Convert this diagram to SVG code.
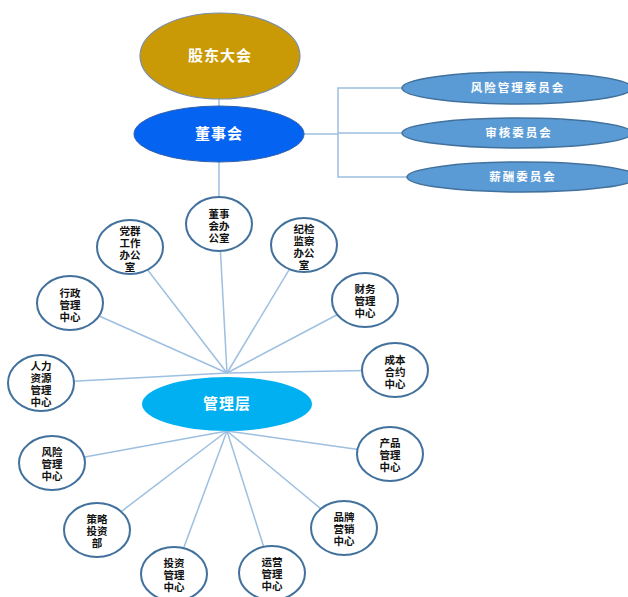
<svg xmlns="http://www.w3.org/2000/svg" width="628" height="597" viewBox="0 0 628 597">
<style>
.bg{fill:#ffffff}
.conn{stroke:#9dbfe0;stroke-width:1.5;fill:none}
.node{fill:#ffffff;stroke:#41719c;stroke-width:2}
.nt{font-family:"Noto Sans CJK SC","Noto Sans",sans-serif;font-size:10.5px;font-weight:bold;fill:#111;text-anchor:middle}
.big{font-family:"Noto Sans CJK SC","Noto Sans",sans-serif;font-size:15px;font-weight:bold;fill:#ffffff;text-anchor:middle;letter-spacing:1px}
.cm{fill:#5b9bd5;stroke:#41719c;stroke-width:1.5}
.ct{font-family:"Noto Sans CJK SC","Noto Sans",sans-serif;font-size:11.5px;font-weight:bold;fill:#ffffff;text-anchor:middle;letter-spacing:2px}
</style>
<rect class="bg" x="0" y="0" width="628" height="597"/>
<g id="connectors">
<line class="conn" x1="219" y1="98" x2="219" y2="107"/>
<line class="conn" x1="219" y1="162" x2="219" y2="198"/>
<polyline class="conn" points="304,134 338,134"/>
<polyline class="conn" points="403,88 338,88 338,177 408,177"/>
<line class="conn" x1="338" y1="133" x2="403" y2="133"/>
<line class="conn" x1="227" y1="373" x2="219" y2="224"/>
<line class="conn" x1="227" y1="373" x2="130" y2="247"/>
<line class="conn" x1="227" y1="373" x2="304" y2="245"/>
<line class="conn" x1="227" y1="373" x2="70" y2="303"/>
<line class="conn" x1="227" y1="373" x2="365" y2="300"/>
<line class="conn" x1="227" y1="373" x2="41" y2="383"/>
<line class="conn" x1="227" y1="373" x2="395" y2="370"/>
<line class="conn" x1="227" y1="431" x2="390" y2="454"/>
<line class="conn" x1="227" y1="431" x2="344" y2="528"/>
<line class="conn" x1="227" y1="431" x2="52" y2="463"/>
<line class="conn" x1="227" y1="431" x2="97" y2="530"/>
<line class="conn" x1="227" y1="431" x2="174" y2="574"/>
<line class="conn" x1="227" y1="431" x2="272" y2="573"/>
</g>
<g id="gudong">
<ellipse cx="220" cy="56" rx="80" ry="43" fill="#c99a06" stroke="#7a8ea8" stroke-width="1.2"/>
<text class="big" x="220" y="61">股东大会</text>
</g>
<g id="dongshihui">
<ellipse cx="219" cy="134" rx="85" ry="28" fill="#0563f2" stroke="#2f5fa8" stroke-width="1"/>
<text class="big" x="219" y="139">董事会</text>
</g>
<g id="guanlice">
<ellipse cx="227" cy="404" rx="85" ry="27" fill="#00b0f0"/>
<text class="big" x="227" y="409">管理层</text>
</g>
<g id="fengxian-weiyuanhui">
<ellipse class="cm" cx="517" cy="88" rx="115" ry="16"/>
<text class="ct" x="518" y="92">风险管理委员会</text>
</g>
<g id="shenhe-weiyuanhui">
<ellipse class="cm" cx="517" cy="133" rx="115" ry="15"/>
<text class="ct" x="519" y="137">审核委员会</text>
</g>
<g id="xinchou-weiyuanhui">
<ellipse class="cm" cx="522" cy="177" rx="115" ry="15"/>
<text class="ct" x="523" y="181">薪酬委员会</text>
</g>
<g id="dongshihui-bangongshi">
<ellipse class="node" cx="219" cy="224" rx="33" ry="27"/>
<text class="nt"><tspan x="219" y="218">董事</tspan><tspan x="219" y="230">会办</tspan><tspan x="219" y="242">公室</tspan></text>
</g>
<g id="dangqun">
<ellipse class="node" cx="130" cy="247" rx="33" ry="27"/>
<text class="nt"><tspan x="130" y="235">党群</tspan><tspan x="130" y="247">工作</tspan><tspan x="130" y="259">办公</tspan><tspan x="130" y="271">室</tspan></text>
</g>
<g id="jijian">
<ellipse class="node" cx="304" cy="245" rx="33" ry="27"/>
<text class="nt"><tspan x="304" y="233">纪检</tspan><tspan x="304" y="245">监察</tspan><tspan x="304" y="257">办公</tspan><tspan x="304" y="269">室</tspan></text>
</g>
<g id="xingzheng">
<ellipse class="node" cx="70" cy="303" rx="33" ry="27"/>
<text class="nt"><tspan x="70" y="297">行政</tspan><tspan x="70" y="309">管理</tspan><tspan x="70" y="321">中心</tspan></text>
</g>
<g id="caiwu">
<ellipse class="node" cx="365" cy="300" rx="33" ry="27"/>
<text class="nt"><tspan x="365" y="293">财务</tspan><tspan x="365" y="305">管理</tspan><tspan x="365" y="317">中心</tspan></text>
</g>
<g id="renli">
<ellipse class="node" cx="41" cy="383" rx="33" ry="28"/>
<text class="nt"><tspan x="41" y="370">人力</tspan><tspan x="41" y="382">资源</tspan><tspan x="41" y="394">管理</tspan><tspan x="41" y="406">中心</tspan></text>
</g>
<g id="chengben">
<ellipse class="node" cx="395" cy="370" rx="33" ry="27"/>
<text class="nt"><tspan x="395" y="364">成本</tspan><tspan x="395" y="376">合约</tspan><tspan x="395" y="388">中心</tspan></text>
</g>
<g id="chanpin">
<ellipse class="node" cx="390" cy="454" rx="33" ry="27"/>
<text class="nt"><tspan x="390" y="447">产品</tspan><tspan x="390" y="459">管理</tspan><tspan x="390" y="471">中心</tspan></text>
</g>
<g id="pinpai">
<ellipse class="node" cx="344" cy="528" rx="33" ry="27"/>
<text class="nt"><tspan x="344" y="521">品牌</tspan><tspan x="344" y="533">营销</tspan><tspan x="344" y="545">中心</tspan></text>
</g>
<g id="fengxian">
<ellipse class="node" cx="52" cy="463" rx="33" ry="27"/>
<text class="nt"><tspan x="52" y="456">风险</tspan><tspan x="52" y="468">管理</tspan><tspan x="52" y="480">中心</tspan></text>
</g>
<g id="celue">
<ellipse class="node" cx="97" cy="530" rx="33" ry="27"/>
<text class="nt"><tspan x="97" y="523">策略</tspan><tspan x="97" y="535">投资</tspan><tspan x="97" y="547">部</tspan></text>
</g>
<g id="touzi">
<ellipse class="node" cx="174" cy="574" rx="33" ry="27"/>
<text class="nt"><tspan x="174" y="567">投资</tspan><tspan x="174" y="579">管理</tspan><tspan x="174" y="591">中心</tspan></text>
</g>
<g id="yunying">
<ellipse class="node" cx="272" cy="573" rx="33" ry="27"/>
<text class="nt"><tspan x="272" y="566">运营</tspan><tspan x="272" y="578">管理</tspan><tspan x="272" y="590">中心</tspan></text>
</g>
</svg>
